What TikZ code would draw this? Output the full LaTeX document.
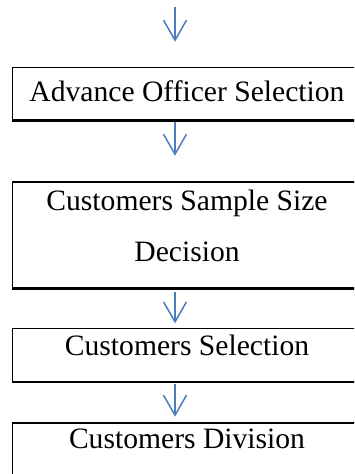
\documentclass[tikz,border=0pt]{standalone}
\usepackage{fontspec}
\setmainfont{Liberation Serif}
\usetikzlibrary{arrows.meta}
\definecolor{flowblue}{HTML}{4A7EBB}
\tikzset{
  stagebox/.style={rectangle, draw=black, line width=1.1pt, inner sep=0pt,
    minimum width=349.3pt},
  stagetext/.style={anchor=base, inner sep=0pt,
    font=\fontsize{29.6pt}{51.7pt}\selectfont, align=center},
  flowarrow/.style={draw=flowblue, line width=1.5pt,
    -{Straight Barb[length=20pt, width=23pt, line width=1.5pt]}},
  thickedge/.style={line width=2pt},
  midedge/.style={line width=1.5pt}
}
\begin{document}
\begin{tikzpicture}[x=1pt, y=-1pt]
  \useasboundingbox (0,0) rectangle (354,474);
  \clip (0,0) rectangle (354,474);

  % stage frames (open to the right, heavier bottom rule)
  \node[stagebox, minimum height=52.7pt]  (b1) at (187.35, 93.65) {};
  \node[stagebox, minimum height=105.5pt] (b2) at (187.35, 235.25) {};
  \node[stagebox, minimum height=53.5pt]  (b3) at (187.35, 355.05) {};
  \node[stagebox, minimum height=62pt]    (b4) at (187.35, 454) {};
  \foreach \b in {b1,b2,b3,b4} {
    \draw[thickedge] (\b.south west) -- (\b.south east);
  }
  \foreach \b in {b2,b4} {
    \draw[midedge] (\b.north west) -- (\b.north east);
  }

  % stage labels
  \node[stagetext] (t1) at (187, 101.7) {Advance Officer Selection};
  \node[stagetext] (t2a) at (187, 210) {Customers Sample Size};
  \node[stagetext] (t2b) at (187, 261.7) {Decision};
  \node[stagetext] (t3) at (187, 355) {Customers Selection};
  \node[stagetext] (t4) at (187, 448.3) {Customers Division};

  % flow arrows between stages
  \coordinate (a1s) at (175, 7.3);   \coordinate (a1e) at (175, 41.7);
  \coordinate (a2s) at (175, 121.7); \coordinate (a2e) at (175, 155.7);
  \coordinate (a3s) at (175, 291.7); \coordinate (a3e) at (175, 323.3);
  \coordinate (a4s) at (175, 384);   \coordinate (a4e) at (175, 416.7);
  \draw[flowarrow] (a1s) -- (a1e);
  \draw[flowarrow] (a2s) -- (a2e);
  \draw[flowarrow] (a3s) -- (a3e);
  \draw[flowarrow] (a4s) -- (a4e);
\end{tikzpicture}
\end{document}
